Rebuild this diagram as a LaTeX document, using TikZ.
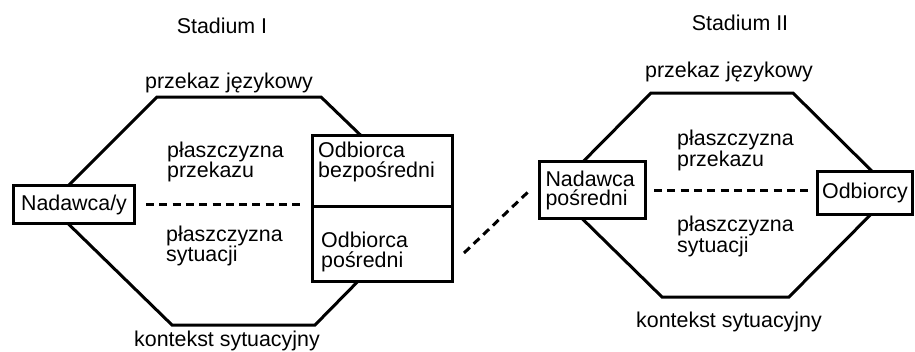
\documentclass[tikz,border=0pt]{standalone}
\usepackage{fontspec}
\setmainfont{Liberation Sans}
\usetikzlibrary{calc}
\begin{document}
\begin{tikzpicture}[x=1pt,y=-1pt,
  hexa/.style={line width=3pt, line join=miter},
  box/.style={draw, line width=3pt, fill=white, inner sep=0pt, font=\fontsize{21.4}{20}\selectfont},
  txt/.style={inner sep=0pt, align=left, font=\fontsize{21.4}{20}\selectfont},
  txtb/.style={inner sep=0pt, align=left, font=\fontsize{21.4}{19}\selectfont},
  dsh/.style={line width=3pt, dash pattern=on 8pt off 5.3pt}]
\useasboundingbox (0,0) rectangle (915,351);

% ---------- Stadium I ----------
\draw[hexa] (49,205) -- (157,97) -- (321,97) -- (433,205) -- (315,325) -- (172,325) -- cycle;

\node[box, minimum width=121pt, minimum height=38pt] (nad1) at (74,204.5) {Nadawca/y};
\node[box, minimum width=140pt, minimum height=70.5pt] (odb1) at (382.5,170.75) {};
\node[box, minimum width=140pt, minimum height=75.5pt] (odb2) at (382.5,243.75) {};

\node[txt, anchor=north west] (odb1t) at (318,141.4) {Odbiorca\\bezpośredni};
\node[txt, anchor=north west] (odb2t) at (321,231.4) {Odbiorca\\pośredni};

\node[txt, anchor=north west] (pp1) at (167,141.4) {płaszczyzna\\przekazu};
\node[txt, anchor=north west] (ps1) at (166,225.4) {płaszczyzna\\sytuacji};

\node[txt, anchor=base] (st1) at (222,33) {Stadium I};
\node[txt, anchor=base] (pj1) at (229,88) {przekaz językowy};
\node[txt, anchor=base] (ks1) at (227,346) {kontekst sytuacyjny};

\draw[dsh, shorten <=10pt, shorten >=11pt] (nad1.east) -- (nad1.east -| odb1.west);

% ---------- Stadium II ----------
\draw[hexa] (554,191) -- (651,93) -- (793,93) -- (893,192) -- (789,297) -- (662,297) -- cycle;

\node[box, minimum width=106pt, minimum height=57pt, text width=94pt, align=left,
      font=\fontsize{21.4}{19}\selectfont] (nad2) at (592.5,190) {Nadawca\\pośredni};
\node[box, minimum width=95pt, minimum height=43pt] (odbc) at (865,193) {Odbiorcy};

\node[txtb, anchor=north west] (pp2) at (677,129.4) {płaszczyzna\\przekazu};
\node[txtb, anchor=north west] (ps2) at (677,215.4) {płaszczyzna\\sytuacji};

\node[txt, anchor=base] (st2) at (740,30) {Stadium II};
\node[txt, anchor=base] (pj2) at (729,77) {przekaz językowy};
\node[txt, anchor=base] (ks2) at (729,327) {kontekst sytuacyjny};

\draw[dsh, shorten <=7pt, shorten >=7pt] (nad2.east) -- (nad2.east -| odbc.west);

% ---------- connection ----------
\coordinate (c1) at (464,253);
\coordinate (c2) at (528,192);
\draw[dsh] (c1) -- (c2);
\end{tikzpicture}
\end{document}
